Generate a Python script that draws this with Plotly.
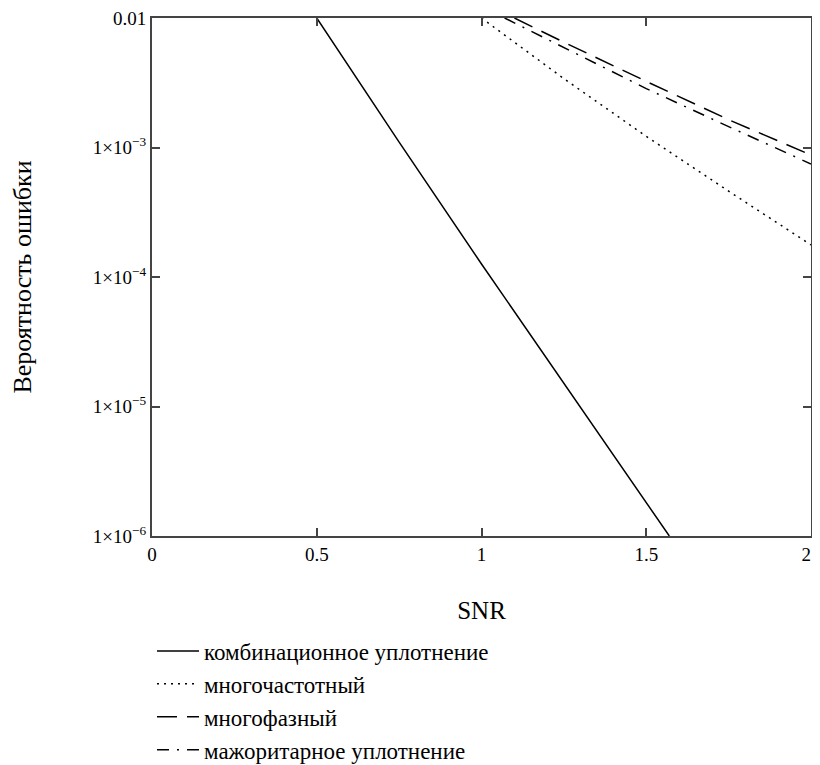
import plotly.graph_objects as go

# --- data ---
comb_x = [0.5, 0.75, 1.0, 1.25, 1.5, 1.57]
comb_y = [1e-2, 1.1e-3, 1.26e-4, 1.5e-5, 1.8e-6, 1e-6]

freq_x = [1.0, 1.25, 1.5, 1.75, 2.0]
freq_y = [1e-2, 3.4e-3, 1.22e-3, 4.6e-4, 1.77e-4]

phase_x = [1.10, 1.25, 1.5, 1.75, 2.0]
phase_y = [1e-2, 6.5e-3, 3.24e-3, 1.64e-3, 8.75e-4]

major_x = [1.07, 1.25, 1.5, 1.75, 2.0]
major_y = [1e-2, 5.9e-3, 2.85e-3, 1.45e-3, 7.46e-4]

names = ["комбинационное уплотнение", "многочастотный", "многофазный", "мажоритарное уплотнение"]

x_ticks = [0, 0.5, 1, 1.5, 2]
x_ticktext = ["0", "0.5", "1", "1.5", "2\u2002"]
y_ticks = [1e-2, 1e-3, 1e-4, 1e-5, 1e-6]
y_ticktext = ["0.01", "1×10<sup>−3</sup>", "1×10<sup>−4</sup>", "1×10<sup>−5</sup>", "1×10<sup>−6</sup>"]

FONT = "Times New Roman, Liberation Serif, serif"

fig = go.Figure()
series = [
    (comb_x, comb_y, "solid", 1.5),
    (freq_x, freq_y, "2px,5px", 1.5),
    (phase_x, phase_y, "20px,10px", 1.5),
    (major_x, major_y, "12px,8px,2px,8px", 1.5),
]
for i, ((xs, ys, dash, w), nm) in enumerate(zip(series, names)):
    fig.add_trace(go.Scatter(
        x=xs, y=ys, mode="lines", name=nm,
        line=dict(color="black", width=w, dash=dash),
    ))

axis_common = dict(
    showline=True, linecolor="#444", linewidth=2, mirror="ticks",
    ticks="inside", ticklen=8, tickcolor="#444", tickwidth=1.5,
    showgrid=False, zeroline=False, ticklabeloverflow="allow", automargin=False,
    tickfont=dict(family=FONT, size=19, color="black"),
)

fig.update_xaxes(range=[0, 2], tickvals=x_ticks, ticktext=x_ticktext,
                 title=dict(text="SNR", font=dict(family=FONT, size=25, color="black"), standoff=38),
                 **axis_common)
fig.update_yaxes(type="log", range=[-6, -2], tickvals=y_ticks, ticktext=y_ticktext,
                 title=dict(text="Вероятность ошибки", font=dict(family=FONT, size=26, color="black"), standoff=55),
                 **axis_common)

fig.update_layout(
    template="none",
    width=820, height=765,
    margin=dict(l=144, r=17, t=10, b=237, autoexpand=False),
    paper_bgcolor="white", plot_bgcolor="white",
    showlegend=True,
    legend=dict(x=0.0, y=-0.1805, xanchor="left", yanchor="top",
                font=dict(family=FONT, size=23, color="black"),
                itemwidth=42, bgcolor="rgba(0,0,0,0)"),
)

fig.write_html("out.html")
